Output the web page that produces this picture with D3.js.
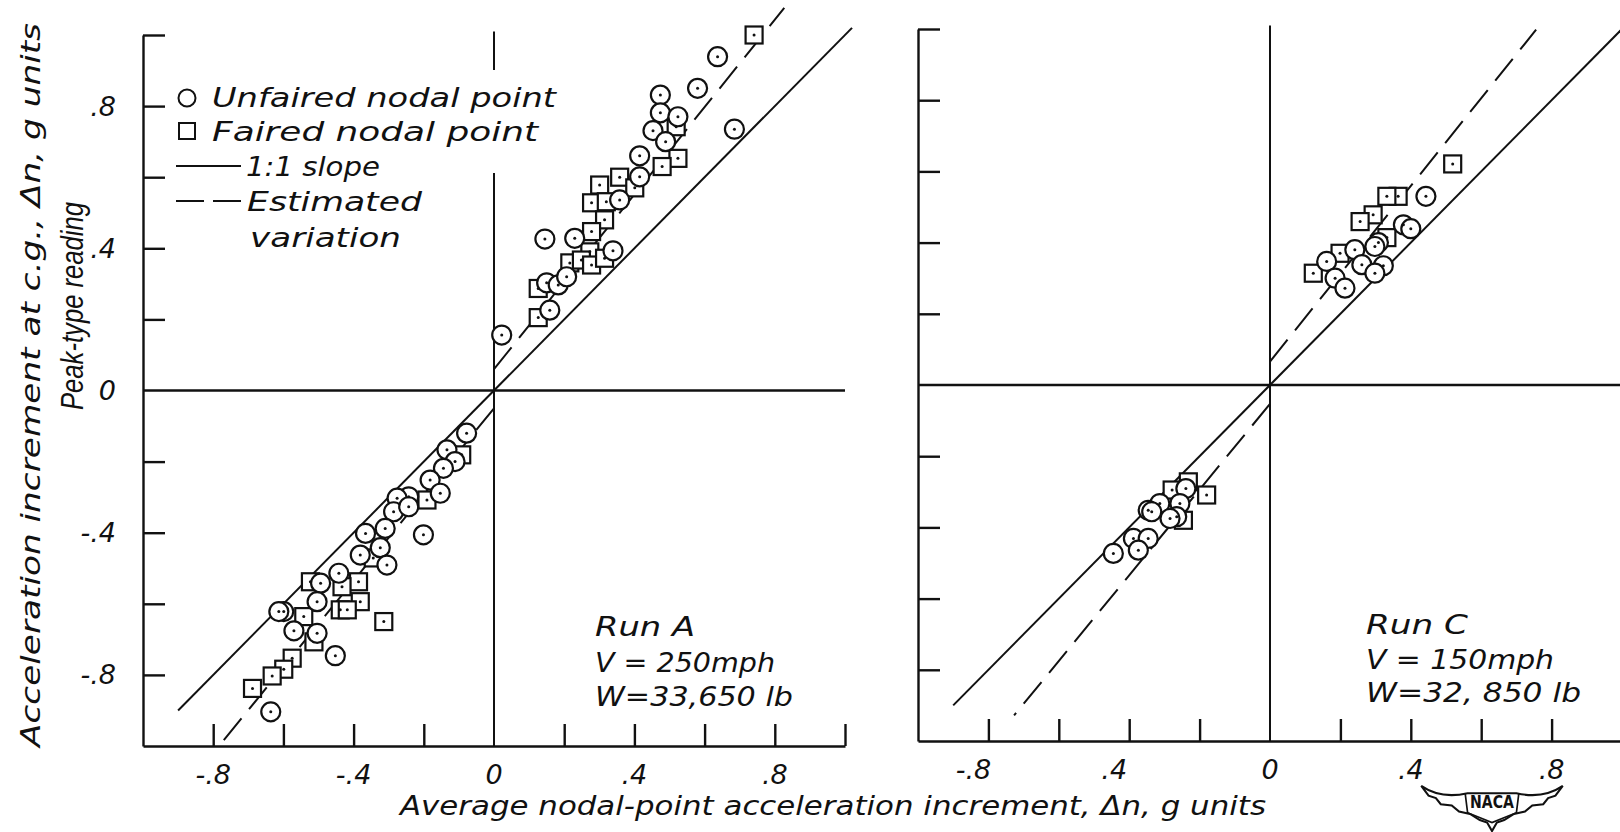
<!DOCTYPE html>
<html><head><meta charset="utf-8">
<script src="https://cdn.jsdelivr.net/npm/d3@7"></script>
<style>
html,body{margin:0;padding:0;background:#fff;}
svg{display:block;}
text{font-family:'DejaVu Sans','Liberation Sans',sans-serif;font-style:italic;fill:#111;}
</style></head><body>
<svg id="chart" width="1620" height="832"></svg>
<script>
// ---------------- DATA ----------------
// Run A (V = 250 mph, W = 33,650 lb)
const runAUnfaired = [
  [0.637,0.939],[0.580,0.850],[0.474,0.831],[0.474,0.781],[0.524,0.770],[0.453,0.731],[0.489,0.700],
  [0.685,0.735],[0.415,0.660],[0.415,0.601],[0.358,0.536],[0.145,0.426],[0.230,0.428],[0.339,0.393],
  [0.150,0.303],[0.183,0.297],[0.207,0.320],[0.159,0.226],[0.022,0.156],
  [-0.078,-0.120],[-0.134,-0.167],[-0.111,-0.200],[-0.144,-0.219],[-0.182,-0.252],[-0.153,-0.289],
  [-0.243,-0.299],[-0.276,-0.303],[-0.286,-0.341],[-0.243,-0.327],[-0.201,-0.406],[-0.310,-0.388],
  [-0.366,-0.402],[-0.324,-0.442],[-0.381,-0.463],[-0.305,-0.491],[-0.442,-0.514],[-0.494,-0.542],
  [-0.504,-0.594],[-0.599,-0.622],[-0.613,-0.622],[-0.570,-0.676],[-0.504,-0.683],[-0.452,-0.746],
  [-0.636,-0.904]
];
const runAFaired = [
  [0.741,1.000],[0.519,0.742],[0.524,0.653],[0.479,0.630],[0.358,0.600],[0.401,0.570],[0.301,0.578],
  [0.278,0.528],[0.320,0.531],[0.315,0.480],[0.278,0.447],[0.273,0.390],[0.216,0.359],[0.249,0.367],
  [0.278,0.353],[0.315,0.372],[0.126,0.287],[0.126,0.205],
  [-0.092,-0.181],[-0.191,-0.308],[-0.344,-0.471],[-0.386,-0.538],[-0.433,-0.552],[-0.523,-0.538],
  [-0.381,-0.594],[-0.438,-0.617],[-0.418,-0.617],[-0.314,-0.650],[-0.542,-0.636],[-0.513,-0.707],
  [-0.575,-0.753],[-0.599,-0.784],[-0.632,-0.803],[-0.688,-0.838]
];
// Run C (V = 150 mph, W = 32,850 lb)
const runCUnfaired = [
  [0.443,0.530],[0.379,0.450],[0.400,0.439],[0.308,0.400],[0.298,0.389],[0.241,0.380],[0.161,0.347],
  [0.261,0.338],[0.322,0.335],[0.298,0.314],[0.185,0.300],[0.213,0.272],
  [-0.239,-0.291],[-0.313,-0.333],[-0.256,-0.333],[-0.346,-0.352],[-0.336,-0.356],[-0.265,-0.370],
  [-0.284,-0.375],[-0.388,-0.431],[-0.346,-0.431],[-0.374,-0.464],[-0.445,-0.473]
];
const runCFaired = [
  [0.519,0.621],[0.364,0.530],[0.332,0.530],[0.293,0.478],[0.256,0.459],[0.332,0.414],[0.199,0.370],
  [0.123,0.314],
  [-0.232,-0.272],[-0.180,-0.309],[-0.278,-0.295],[-0.246,-0.380]
];
// reference lines
const slopeLine = [[-0.9,-0.9],[1.02,1.02]];
const runAEstimated = [[[0,0.06],[0.827,1.076]], [[0,-0.05],[-0.775,-0.99]]];
const runCEstimated = [[[0,0.066],[0.756,0.998]], [[0,-0.053],[-0.727,-0.928]]];
// ticks and labels
const minorTicks = [-0.8,-0.6,-0.4,-0.2,0.2,0.4,0.6,0.8,1.0];
const xLabelValues = [-0.8,-0.4,0,0.4,0.8];
const xLabelsA = ["-.8","-.4","0",".4",".8"];
const xLabelsC = ["-.8",".4","0",".4",".8"];
const yLabelValues = [0.8,0.4,0,-0.4,-0.8];
const yLabels = [".8",".4","0","-.4","-.8"];
const legendLabels = ["Unfaired nodal point","Faired  nodal point","1:1 slope","Estimated","variation"];
const runAText = ["Run A","V = 250mph","W=33,650 lb"];
const runCText = ["Run C","V = 150mph","W=32, 850 lb"];
const xTitle = "Average nodal-point acceleration increment, \u0394n, g units";
const yTitle1 = "Acceleration  increment at c.g., \u0394n, g units";
const yTitle2 = "Peak-type reading";

// ---------------- DRAW ----------------
const svg = d3.select("#chart");
const ink = "#111";

const panels = [
  {x:d3.scaleLinear().domain([-1,1]).range([143,845]), y:d3.scaleLinear().domain([-1,1]).range([746,35]),
   unf:runAUnfaired, fai:runAFaired, est:runAEstimated, xl:xLabelsA, negShift:0,
   txt:runAText, tx:595, ty:[627,663,697], tw:[100,180,198], showY:true},
  {x:d3.scaleLinear().domain([-1,1]).range([918,1622]), y:d3.scaleLinear().domain([-1,1]).range([741,29]),
   unf:runCUnfaired, fai:runCFaired, est:runCEstimated, xl:xLabelsC, negShift:-15,
   txt:runCText, tx:1366, ty:[625,660,693], tw:[102,188,215], showY:false}
];

const line = (p) => d3.line().x(d=>p.x(d[0])).y(d=>p.y(d[1]));

panels.forEach((p,i) => {
  const g = svg.append("g");
  // zero lines
  g.append("line").attr("x1",p.x(-1)).attr("x2",p.x(1)).attr("y1",p.y(0)).attr("y2",p.y(0))
    .attr("stroke",ink).attr("stroke-width",2.4);
  g.append("line").attr("x1",p.x(0)).attr("x2",p.x(0)).attr("y1",p.y(1.01)).attr("y2",p.y(-1))
    .attr("stroke",ink).attr("stroke-width",2);
  // axes
  const xa = g.append("g").attr("transform",`translate(0,${p.y(-1)})`)
    .call(d3.axisBottom(p.x).tickValues(minorTicks).tickSizeInner(-22).tickSizeOuter(0).tickFormat(""));
  const ya = g.append("g").attr("transform",`translate(${p.x(-1)},0)`)
    .call(d3.axisLeft(p.y).tickValues(minorTicks).tickSizeInner(-22).tickSizeOuter(0).tickFormat(""));
  [xa,ya].forEach(a=>{a.selectAll("path,line").attr("stroke",ink).attr("stroke-width",2.4);});
  // x labels
  g.selectAll(".xl").data(xLabelValues).join("text")
    .attr("x",d=>p.x(d) + (d<0 ? p.negShift : 0)).attr("y",p.y(-1)+29).attr("dy","0.35em")
    .attr("text-anchor","middle").attr("font-size",27).text((d,j)=>p.xl[j]);
  if (p.showY) {
    g.selectAll(".yl").data(yLabelValues).join("text")
      .attr("x",116).attr("y",d=>p.y(d)).attr("dy","0.35em")
      .attr("text-anchor","end").attr("font-size",27).text((d,j)=>yLabels[j]);
  }
  // lines
  g.append("path").datum(slopeLine).attr("d",line(p)).attr("fill","none").attr("stroke",ink).attr("stroke-width",2);
  p.est.forEach(seg => {
    g.append("path").datum(seg).attr("d",line(p)).attr("fill","none").attr("stroke",ink)
      .attr("stroke-width",2).attr("stroke-dasharray","28,12");
  });
  // squares (faired)
  const s = 17;
  g.selectAll(".sq").data(p.fai).join("rect")
    .attr("x",d=>p.x(d[0])-s/2).attr("y",d=>p.y(d[1])-s/2).attr("width",s).attr("height",s)
    .attr("fill","#fff").attr("stroke",ink).attr("stroke-width",2.2);
  g.selectAll(".sqd").data(p.fai).join("circle")
    .attr("cx",d=>p.x(d[0])).attr("cy",d=>p.y(d[1])).attr("r",1.5).attr("fill",ink);
  // circles (unfaired)
  g.selectAll(".ci").data(p.unf).join("circle")
    .attr("cx",d=>p.x(d[0])).attr("cy",d=>p.y(d[1])).attr("r",9.5)
    .attr("fill","#fff").attr("stroke",ink).attr("stroke-width",2.2);
  g.selectAll(".cid").data(p.unf).join("circle")
    .attr("cx",d=>p.x(d[0])).attr("cy",d=>p.y(d[1])).attr("r",1.5).attr("fill",ink);
  // run annotation
  p.txt.forEach((t,j)=>{
    g.append("text").attr("x",p.tx).attr("y",p.ty[j]).attr("dy","0.35em").attr("font-size",26)
      .attr("textLength",p.tw[j]).attr("lengthAdjust","spacingAndGlyphs").text(t);
  });
});

// legend (left panel)
const lg = svg.append("g");
lg.append("rect").attr("x",172).attr("y",70).attr("width",395).attr("height",103).attr("fill","#fff");
lg.append("circle").attr("cx",187).attr("cy",98).attr("r",8.5).attr("fill","none").attr("stroke",ink).attr("stroke-width",2);
lg.append("rect").attr("x",179).attr("y",123).attr("width",16).attr("height",16).attr("fill","none").attr("stroke",ink).attr("stroke-width",2);
lg.append("line").attr("x1",176).attr("x2",241).attr("y1",166).attr("y2",166).attr("stroke",ink).attr("stroke-width",2);
lg.append("line").attr("x1",176).attr("x2",241).attr("y1",201).attr("y2",201).attr("stroke",ink).attr("stroke-width",2).attr("stroke-dasharray","28,9");
const legPos = [[212,98,344],[212,132,326],[246,167,134],[247,202,175],[250,238,151]];
legendLabels.forEach((t,j)=>{
  lg.append("text").attr("x",legPos[j][0]).attr("y",legPos[j][1]).attr("dy","0.35em").attr("font-size",27)
    .attr("textLength",legPos[j][2]).attr("lengthAdjust","spacingAndGlyphs").text(t);
});

// axis titles
svg.append("text").attr("x",833).attr("y",806).attr("dy","0.35em").attr("text-anchor","middle")
  .attr("font-size",26).attr("textLength",866).attr("lengthAdjust","spacingAndGlyphs").text(xTitle);
svg.append("text").attr("transform","translate(31,385) rotate(-90)").attr("dy","0.35em").attr("text-anchor","middle")
  .attr("font-size",26).attr("textLength",724).attr("lengthAdjust","spacingAndGlyphs").text(yTitle1);
svg.append("text").attr("transform","translate(72,306) rotate(-90)").attr("dy","0.35em").attr("text-anchor","middle")
  .style("font-family","'Liberation Sans',sans-serif").style("font-size","31px")
  .attr("textLength",208).attr("lengthAdjust","spacingAndGlyphs").text(yTitle2);

// NACA emblem
const logo = svg.append("g").attr("transform","translate(1492,803) scale(1.22)");
logo.append("path")
  .attr("d","M-58,-14 Q-42,-3 -20,-8 L20,-8 Q42,-3 58,-14 L52,-6 L46,-4 L42,1 L33,2 L27,7 L18,9 L10,14 L4,16 L0,23 L-4,16 L-10,14 L-18,9 L-27,7 L-33,2 L-42,1 L-46,-4 L-52,-6 Z")
  .attr("fill","#fff").attr("stroke",ink).attr("stroke-width",1.7);
logo.append("path").attr("d","M-22,-8 L-20,8 L0,16 L20,8 L22,-8").attr("fill","none").attr("stroke",ink).attr("stroke-width",1.4);
logo.append("text").attr("x",0).attr("y",4).attr("text-anchor","middle").attr("font-size",14)
  .attr("font-weight","bold").style("font-style","normal").attr("textLength",36).attr("lengthAdjust","spacingAndGlyphs").text("NACA");
</script>
</body></html>
